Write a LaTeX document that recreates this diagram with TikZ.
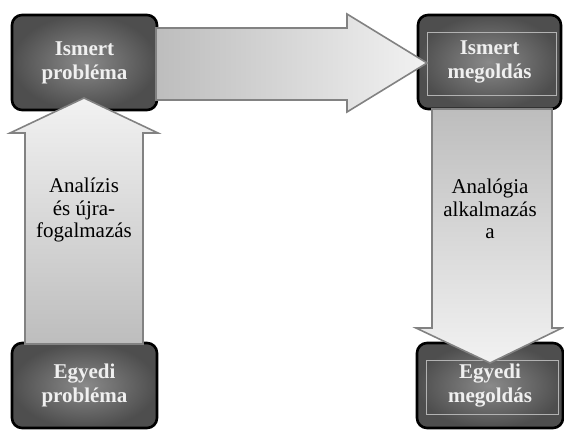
\documentclass[tikz,border=0pt]{standalone}
\usepackage{fontspec}
\setmainfont{Liberation Serif}
\usetikzlibrary{positioning}

\definecolor{boxin}{HTML}{8A8A8A}
\definecolor{boxout}{HTML}{4E4E4E}
\definecolor{arrdark}{HTML}{BDBDBD}
\definecolor{arrlight}{HTML}{F2F2F2}
\definecolor{arredge}{HTML}{828282}

\tikzset{
  stepbox/.style={rectangle, rounded corners=10pt, draw=black, line width=2.6pt,
    shading=radial, inner color=boxin, outer color=boxout, text=white!94!black,
    minimum width=145pt, inner sep=0pt, align=center,
    font=\bfseries\fontsize{21}{24}\selectfont},
  framed/.style={path picture={
    \draw[gray!60, line width=0.5pt, sharp corners]
      ([shift={(9pt,-17pt)}]path picture bounding box.north west) rectangle
      ([shift={(-5pt,14pt)}]path picture bounding box.south east);}},
  blockarrow/.style={draw=arredge, line width=1.6pt, line join=miter},
  arrlabel/.style={align=center, inner sep=0pt, font=\fontsize{21}{22.5}\selectfont}
}

\begin{document}
\begin{tikzpicture}[x=1pt, y=-1pt]
\useasboundingbox (0,0) rectangle (564,430);

% the four boxes
\node[stepbox, minimum height=95pt] (ip) at (84.5,62.5) {Ismert\\probléma};
\node[stepbox, framed, minimum height=94pt, minimum width=143pt] (im) at (489.5,62) {Ismert\\megoldás};
\node[stepbox, minimum height=85pt] (ep) at (84.5,385.5) {Egyedi\\probléma};
\node[stepbox, framed, minimum height=85pt, minimum width=146pt] (em) at (490,385.5) {Egyedi\\megoldás};

% block arrows
\draw[blockarrow, left color=arrdark, right color=arrlight]
  (156,28) -- (347,28) -- (347,14) -- (427,63) -- (347,112) -- (347,100) -- (156,100) -- cycle;
\draw[blockarrow, top color=arrlight, bottom color=arrdark]
  (25,344) -- (25,133) -- (10,133) -- (84,98) -- (158,133) -- (143,133) -- (143,344) -- cycle;
\draw[blockarrow, top color=arrdark, bottom color=arrlight]
  (432,109) -- (552,109) -- (552,328) -- (562,328) -- (490,363) -- (416,328) -- (432,328) -- cycle;

% arrow texts
\node[arrlabel] (ta) at (84,210) {Analízis\\és újra-\\fogalmazás};
\node[arrlabel] (tb) at (490,209) {Analógia\\alkalmazás\\a};

\end{tikzpicture}
\end{document}
